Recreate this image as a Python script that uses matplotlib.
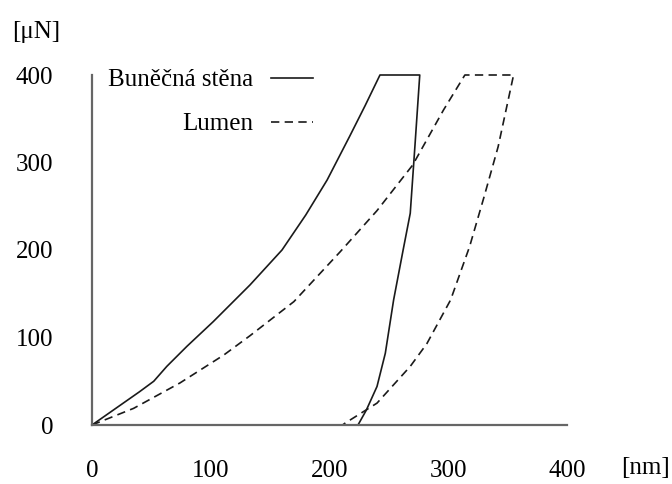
import matplotlib.pyplot as plt

plt.rcParams['font.family'] = ['Liberation Serif', 'DejaVu Serif']

# indentation curves (displacement nm, force uN)
cell_x = [0, 20, 40, 52, 63, 80, 102, 133, 160, 180, 198, 217, 230, 242.5,
          276, 272, 268, 262, 254, 247, 240, 231, 224]
cell_y = [0, 19, 38, 50, 67, 90, 118, 160, 200, 240, 280, 330, 365, 400,
          400, 320, 242, 200, 143, 82, 44, 17, 0]

lum_x = [0, 35, 74, 111, 133, 170, 209, 240, 270, 296, 314,
         355, 342, 330, 318, 302, 282, 268, 240, 213, 211]
lum_y = [0, 19, 48, 80, 102, 141, 198, 245, 297, 360, 400,
         400, 318, 260, 204, 143, 93, 67, 25, 2, 0]

ticks = [0, 100, 200, 300, 400]

fig = plt.figure(figsize=(6.72, 4.84), dpi=100)
ax = fig.add_axes([92/672, 59/484, 475/672, 350/484])

ink = '#1a1a1a'
ax.plot(cell_x, cell_y, color=ink, lw=1.2, label='Buněčná stěna', clip_on=False)
ax.plot(lum_x, lum_y, color=ink, lw=1.2, ls=(0, (5, 3.2)), label='Lumen', clip_on=False)

ax.set_xlim(0, 400)
ax.set_ylim(0, 400)
ax.set_xticks(ticks)
ax.set_yticks(ticks)
ax.tick_params(length=0, labelsize=18)
ax.tick_params(axis='x', pad=25)
ax.tick_params(axis='y', pad=28)
for s in ['top', 'right']:
    ax.spines[s].set_visible(False)
for s in ['left', 'bottom']:
    ax.spines[s].set_color('#666666')
    ax.spines[s].set_linewidth(1.6)

fig.text(12/672, 1 - 32/484, '[μN]', fontsize=18, va='center', ha='left')
fig.text(621/672, 1 - 468/484, '[nm]', fontsize=18, va='center', ha='left')

leg = ax.legend(loc='upper right', bbox_to_anchor=(313/672, 1 - 69/484),
                bbox_transform=fig.transFigure, frameon=False, markerfirst=False,
                fontsize=18, handlelength=1.68, handletextpad=0.72,
                labelspacing=0.85, borderpad=0, borderaxespad=0)

fig.savefig('out.png', dpi=100)
